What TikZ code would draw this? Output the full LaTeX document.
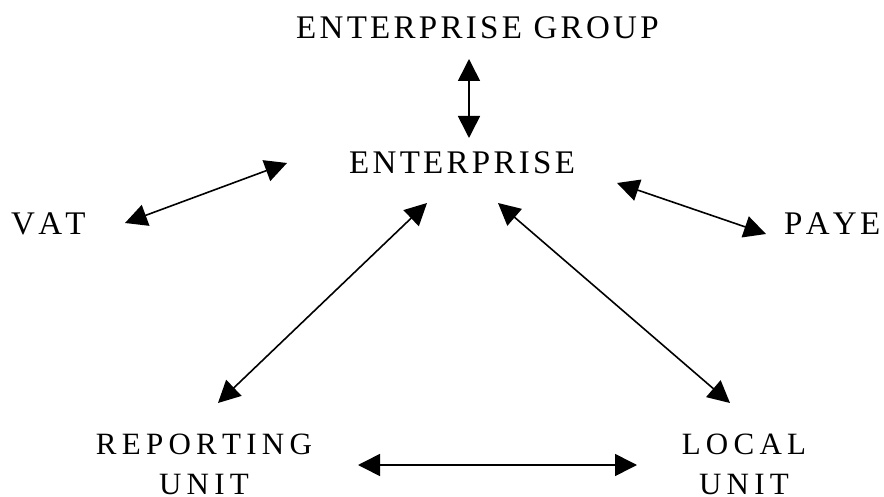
\documentclass[tikz,border=0pt]{standalone}
\usepackage{fontspec}
\setmainfont{Liberation Serif}
\newfontfamily\lsA[LetterSpace=10,Kerning=Off]{Liberation Serif}
\newfontfamily\lsB[LetterSpace=17,Kerning=Off]{Liberation Serif}
\usetikzlibrary{arrows.meta}
\tikzset{
  lbl/.style={inner sep=0pt, anchor=base west, font=\lsA\fontsize{33}{40}\selectfont},
  lblb/.style={inner sep=0pt, anchor=base, align=center, font=\lsB\fontsize{31}{40}\selectfont},
  link/.style={line width=1.6pt, {Triangle[length=22pt,width=22pt]}-{Triangle[length=22pt,width=22pt]}}
}
\begin{document}
\begin{tikzpicture}[x=1pt,y=-1pt]
\useasboundingbox (0,0) rectangle (884,497);
\node[lbl] (grp) at (296,39) {ENTERPRISE GROUP};
\node[lbl] (ent) at (349,174) {ENTERPRISE};
\node[lbl] (vat) at (11,235) {VAT};
\node[lbl] (paye) at (784,235) {PAYE};
\node[lblb] (rep) at (204,494) {REPORTING\\UNIT};
\node[lblb] (loc) at (744,494) {LOCAL\\UNIT};
\coordinate (g1) at (469,59);
\coordinate (e1) at (469,138);
\coordinate (v1) at (125,223);
\coordinate (e2) at (287,163);
\coordinate (e3) at (617,183);
\coordinate (p1) at (766,234);
\coordinate (e4) at (427,203);
\coordinate (r1) at (218,403);
\coordinate (e5) at (498,203);
\coordinate (l1) at (730,403);
\coordinate (r2) at (358,465);
\coordinate (l2) at (637,465);
\draw[link] (g1) -- (e1);
\draw[link] (v1) -- (e2);
\draw[link] (e3) -- (p1);
\draw[link] (e4) -- (r1);
\draw[link] (e5) -- (l1);
\draw[link] (r2) -- (l2);
\end{tikzpicture}
\end{document}
